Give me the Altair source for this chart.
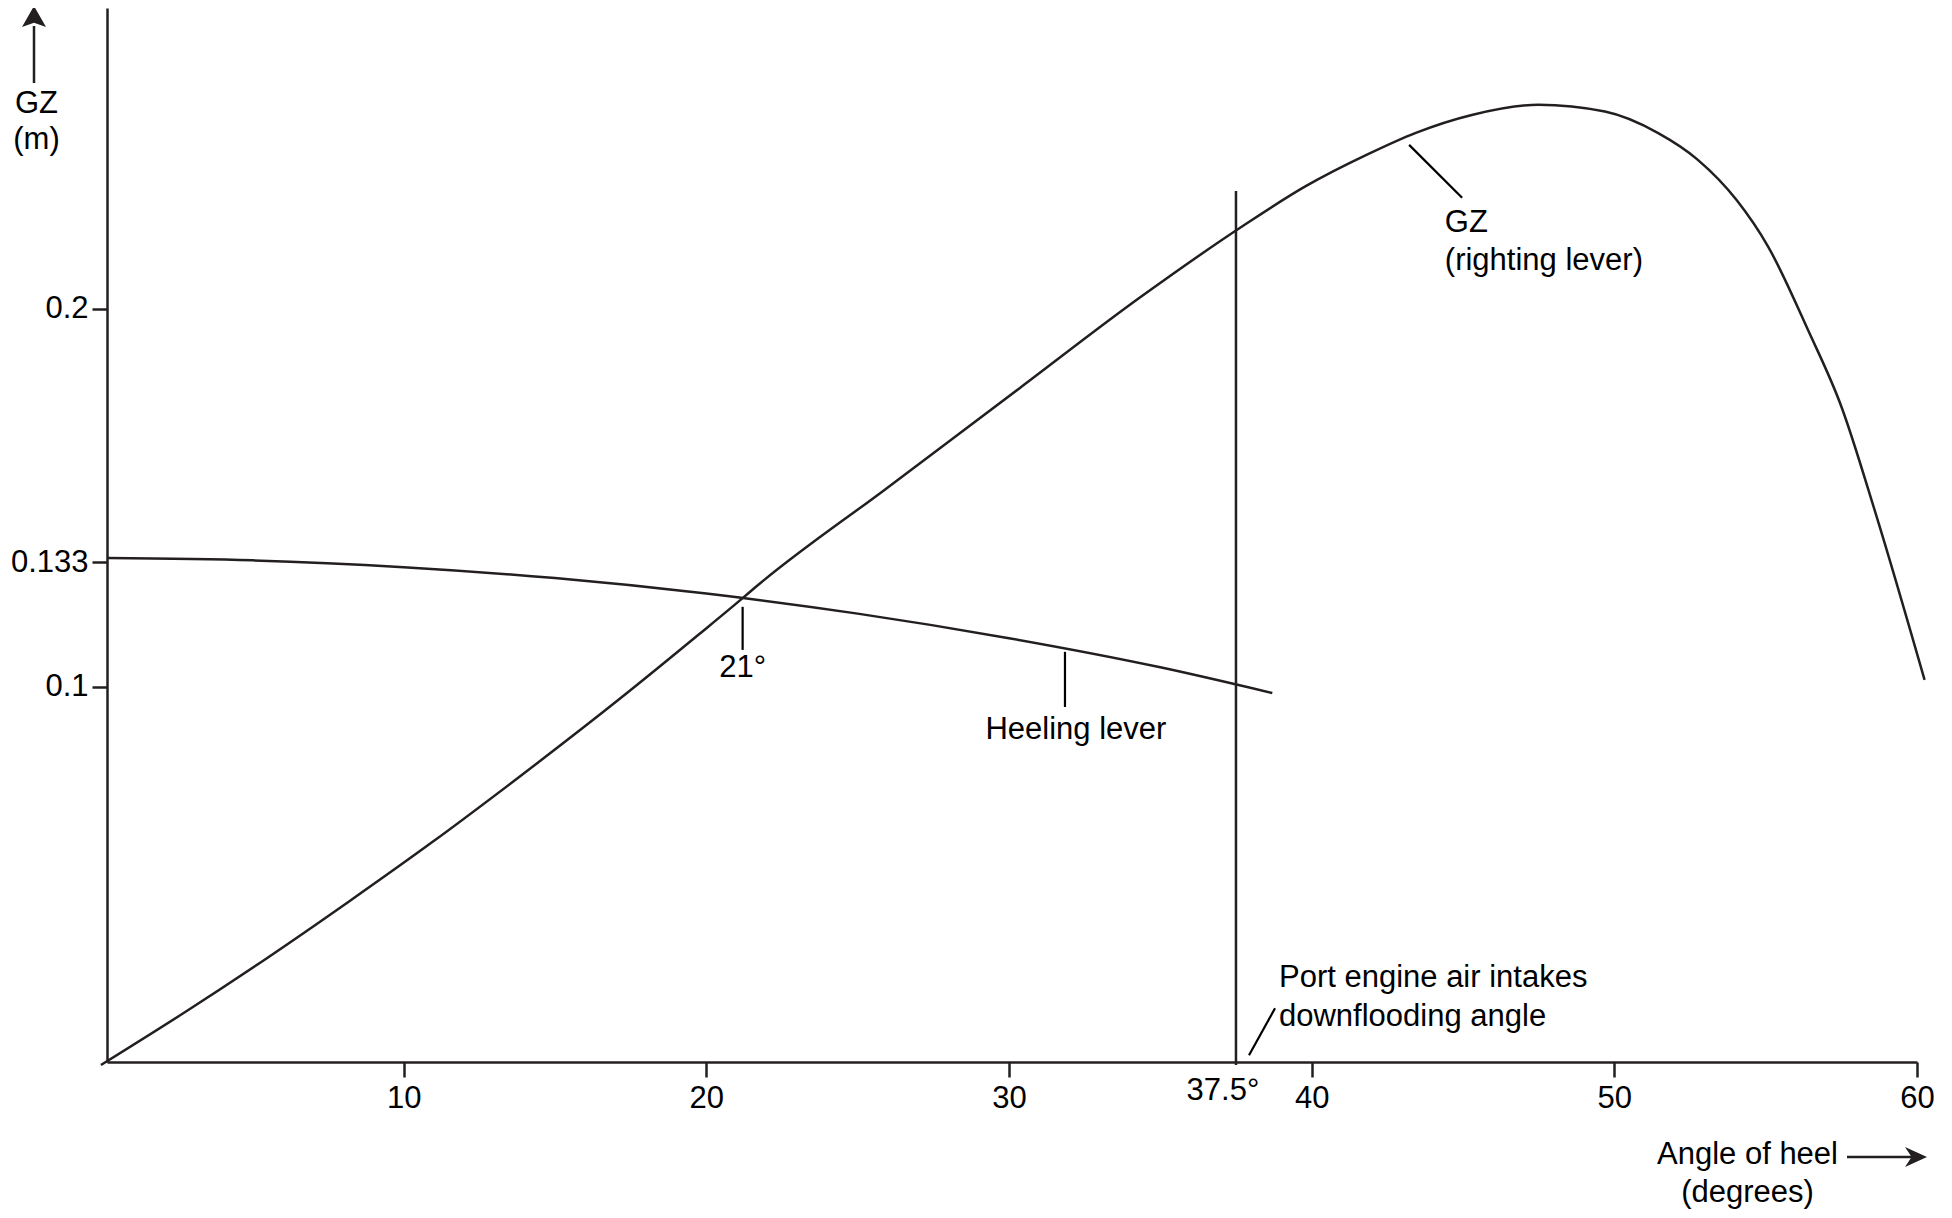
import altair as alt
import pandas as pd

# ---- data ----
gz_deg = [0, 2.72, 5.47, 8.22, 10.97, 13.72, 17.13, 19.77, 21.2, 21.64, 25.93, 30.33,
          34.29, 37.7, 39.79, 41.88, 43.42, 45.29, 47.49, 49.69, 51.45, 52.75, 54.04,
          55.08, 56.4, 57.5, 58.6, 60.25]
gz_val = [0, 0.0137, 0.0282, 0.0434, 0.0591, 0.0756, 0.0968, 0.1140, 0.1235, 0.1265,
          0.1524, 0.1789, 0.2028, 0.2218, 0.2324, 0.2410, 0.2465, 0.2513, 0.2540, 0.2522,
          0.2465, 0.2395, 0.2288, 0.2165, 0.1944, 0.1742, 0.1468, 0.1019]

heel_deg = [0.2, 5, 10, 15, 20, 25, 30, 35, 38.7]
heel_val = [0.1341, 0.1335, 0.1317, 0.1288, 0.1247, 0.1194, 0.1129, 0.1052, 0.0984]

flood_angle = [37.5]
flood_top = [0.2312]

leader_x = [21.2, 31.85, 43.22, 38.79]
leader_y = [0.1212, 0.1093, 0.2434, 0.0150]
leader_x2 = [21.2, 31.85, 44.97, 37.93]
leader_y2 = [0.1098, 0.0947, 0.2294, 0.0026]

center_text = ["21°", "Heeling lever"]
center_x = [21.2, 32.21]
center_y = [0.1026, 0.0862]

left_text = ["GZ", "(righting lever)", "Port engine air intakes", "downflooding angle"]
left_x = [44.4, 44.4, 38.92, 38.92]
left_y = [0.2203, 0.2103, 0.0206, 0.0103]

x_ticks = [10, 20, 30, 40, 50, 60]
y_ticks = [0.1, 0.133, 0.2]

INK = "#231f20"
FONT = "Liberation Sans"
FS = 31
W, H = 1810, 1054

X = alt.X(
    "x:Q",
    scale=alt.Scale(domain=[0.2, 60], nice=False, zero=False),
    axis=alt.Axis(
        values=x_ticks, format="d", grid=False, labelFlush=False, labelOverlap=False,
        tickSize=15, tickWidth=2.5, tickColor=INK, domainColor=INK, domainWidth=2.5,
        labelFont=FONT, labelFontSize=FS, labelColor="black", labelPadding=6,
        title=["Angle of heel", "(degrees)"], titleFont=FONT, titleFontSize=FS,
        titleFontWeight="normal", titleColor="black", titleX=1640, titleY=101,
        titleAlign="center", titleBaseline="alphabetic", titleAngle=0, titleLineHeight=38,
    ),
)
Y = alt.Y(
    "y:Q",
    scale=alt.Scale(domain=[0.0008, 0.2796], nice=False, zero=False),
    axis=alt.Axis(
        values=y_ticks, format=".3~f", grid=False, labelOverlap=False,
        tickSize=15, tickWidth=2.5, tickColor=INK, domainColor=INK, domainWidth=2.5,
        labelFont=FONT, labelFontSize=FS, labelColor="black", labelPadding=4,
        title=["GZ", "(m)"], titleFont=FONT, titleFontSize=FS, titleFontWeight="normal",
        titleColor="black", titleX=-71, titleY=104, titleAlign="center",
        titleBaseline="alphabetic", titleAngle=0, titleLineHeight=36,
    ),
)

gz = alt.Chart(pd.DataFrame({"x": gz_deg, "y": gz_val})).mark_line(
    color=INK, strokeWidth=2.5, interpolate="monotone"
).encode(x=X, y=Y)

heel = alt.Chart(pd.DataFrame({"x": heel_deg, "y": heel_val})).mark_line(
    color=INK, strokeWidth=2.5, interpolate="monotone"
).encode(x=X, y=Y)

flood = alt.Chart(pd.DataFrame({"x": flood_angle, "y": [0.0], "y2": flood_top})).mark_rule(
    color=INK, strokeWidth=2.5
).encode(x=X, y=Y, y2="y2:Q")

leaders = alt.Chart(pd.DataFrame({"x": leader_x, "y": leader_y, "x2": leader_x2, "y2": leader_y2})).mark_rule(
    color="black", strokeWidth=2.2
).encode(x=X, y=Y, x2="x2:Q", y2="y2:Q")

txt_c = alt.Chart(pd.DataFrame({"x": center_x, "y": center_y, "t": center_text})).mark_text(
    font=FONT, fontSize=FS, color="black", align="center", baseline="alphabetic"
).encode(x=X, y=Y, text="t:N")

txt_l = alt.Chart(pd.DataFrame({"x": left_x, "y": left_y, "t": left_text})).mark_text(
    font=FONT, fontSize=FS, color="black", align="left", baseline="alphabetic"
).encode(x=X, y=Y, text="t:N")

txt_flood = alt.Chart(pd.DataFrame({"x": flood_angle, "y": [-0.0093], "t": ["37.5°"]})).mark_text(
    font=FONT, fontSize=FS, color="black", align="center", baseline="alphabetic", dx=-13
).encode(x=X, y=Y, text="t:N")

one = pd.DataFrame({"a": [0]})
y_arrow_shaft = alt.Chart(one).mark_rule(color=INK, strokeWidth=2.5).encode(
    x=alt.value(-73), y=alt.value(18), y2=alt.value(75)
)
y_arrow_head = alt.Chart(one).mark_point(
    shape="M0,-1L1,0.75L0,0.4L-1,0.75Z", filled=True, size=576, color=INK, opacity=1, strokeWidth=0
).encode(x=alt.value(-73), y=alt.value(10))
x_arrow_shaft = alt.Chart(one).mark_rule(color=INK, strokeWidth=2.5).encode(
    x=alt.value(1740), x2=alt.value(1805), y=alt.value(1149)
)
x_arrow_head = alt.Chart(one).mark_point(
    shape="M1,0L-1,-0.9L-0.4,0L-1,0.9Z", filled=True, size=484, color=INK, opacity=1, strokeWidth=0
).encode(x=alt.value(1809), y=alt.value(1149))

chart = alt.layer(
    gz, heel, flood, leaders, txt_c, txt_l, txt_flood,
    y_arrow_shaft, y_arrow_head, x_arrow_shaft, x_arrow_head,
).properties(
    width=W, height=H,
    padding={"left": 99, "top": 0, "right": 20, "bottom": 148},
    autosize=alt.AutoSizeParams(type="none"),
    background="white",
).configure_view(stroke="transparent")

chart.save("out.html", embed_options={"renderer": "svg", "actions": False})
